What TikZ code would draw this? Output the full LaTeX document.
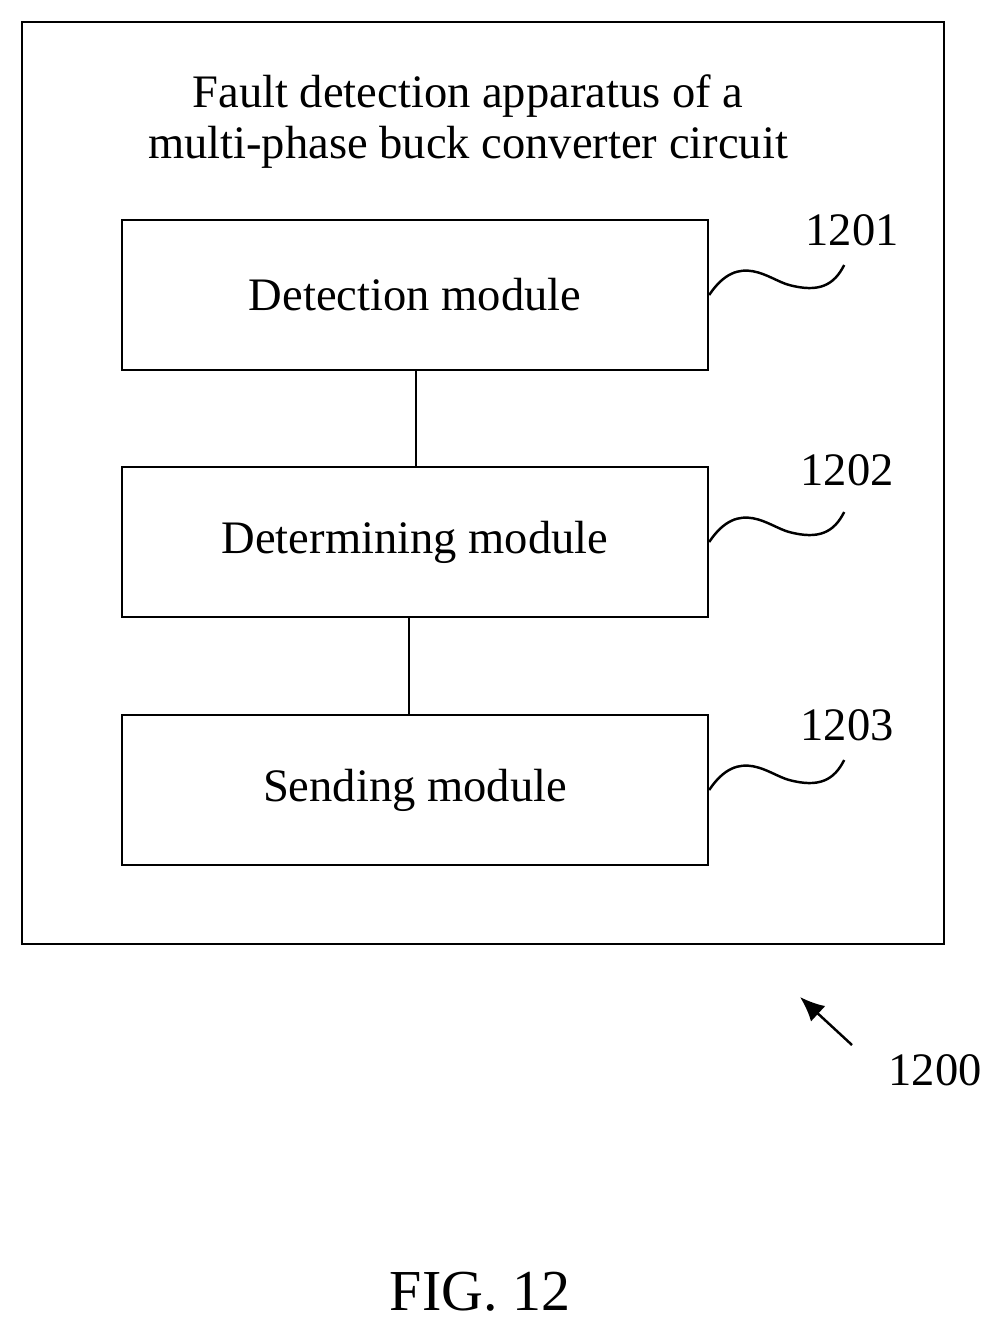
\documentclass[tikz,border=0pt]{standalone}
\usepackage{fontspec}
\setmainfont{Liberation Serif}
\usetikzlibrary{positioning,calc,arrows.meta}
\begin{document}
\begin{tikzpicture}[x=0.02cm,y=-0.02cm,
        every node/.style={font=\fontsize{26.5}{29}\selectfont},
        every path/.style={line width=1.4pt},
        module/.style={draw, minimum width=11.72cm, minimum height=3cm, inner sep=0pt},
        wave/.style={line width=1.4pt}
    ]
    \useasboundingbox (0,0) rectangle (1001,1331);
    \draw (22,22) rectangle (944,944);

    \node[align=center] (title) at (468,122) {Fault detection apparatus of a\\multi-phase buck converter circuit};

    \node [module] (det) at (415,295) {Detection module};
    \node [module] (dtm) at (415,542) {Determining module};
    \node [module] (snd) at (415,790) {Sending module};

    \coordinate (c1) at (416,370);
    \coordinate (c2) at (416,467);
    \coordinate (c3) at (409,617);
    \coordinate (c4) at (409,715);
    \draw (c1) -- (c2);
    \draw (c3) -- (c4);

    \node (l1) at (852,230) {1201};
    \node (l2) at (847,470) {1202};
    \node (l3) at (847,725) {1203};
    \foreach \b/\y in {det/295, dtm/542, snd/790}
        \draw[wave] (\b.east) .. controls ($(\b.east)+(30,-45)$) and ($(\b.east)+(60,-15)$) .. ($(\b.east)+(80,-10)$)
                    .. controls ($(\b.east)+(110,-2)$) and ($(\b.east)+(125,-10)$) .. ($(\b.east)+(135,-30)$);

    \coordinate (atail) at (852,1045);
    \coordinate (ahead) at (800,997);
    \draw[-{Latex[length=14pt,width=12pt]}] (atail) -- (ahead);
    \node (l0) at (935,1070) {1200};

    \node[font=\fontsize{33}{36}\selectfont] (fig) at (480,1292) {FIG. 12};
\end{tikzpicture}
\end{document}
